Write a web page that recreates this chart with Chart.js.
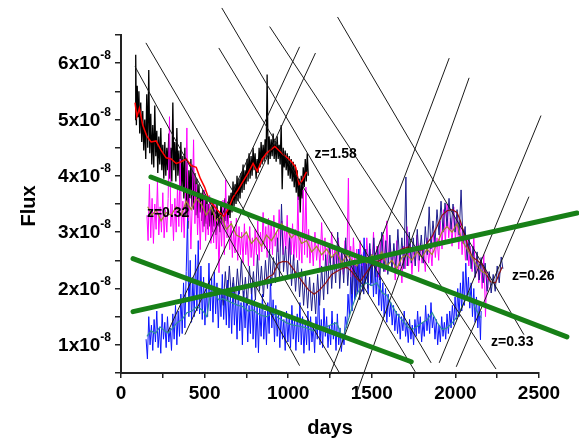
<!DOCTYPE html>
<html>
<head>
<meta charset="utf-8">
<script src="https://cdn.jsdelivr.net/npm/chart.js@4.4.1/dist/chart.umd.min.js"></script>
<style>
  html, body { margin: 0; padding: 0; background: #fff; }
  canvas { display: block; }
</style>
</head>
<body>
<canvas id="flux" width="579" height="438"></canvas>
<script>
// time in days, flux in units of 1e-8

// z=1.58 object (black raw + red smoothed)
var blackRaw = [[84,5.0],[88,6.15],[92,4.9],[97,5.6],[102,5.05],[107,5.5],[112,4.75],[118,5.3],[124,4.6],[130,5.15],[136,4.45],[142,5.0],[148,4.3],[154,5.45],[160,4.5],[166,5.88],[172,4.4],[178,5.1],[184,4.2],[190,4.9],[196,4.15],[202,5.25],[208,4.35],[214,4.8],[220,4.05],[226,4.7],[232,4.2],[238,4.85],[244,4.1],[250,4.55],[256,3.95],[262,4.6],[268,4.0],[274,4.5],[280,4.1],[286,4.75],[292,3.95],[298,4.5],[304,3.9],[310,5.3],[316,4.1],[322,4.6],[328,3.9],[334,4.85],[340,4.0],[346,4.45],[352,3.8],[358,4.6],[364,3.75],[370,4.35],[376,3.6],[382,4.5],[388,3.3],[394,4.25],[400,3.06],[406,4.1],[412,3.6],[418,4.3],[424,3.45],[430,4.2],[436,3.4],[442,4.05],[448,3.3],[454,3.95],[460,3.25],[466,3.85],[472,3.35],[478,3.7],[484,3.2],[490,3.75],[496,3.1],[502,3.65],[508,3.15],[514,3.6],[520,3.05],[526,3.5],[532,3.1],[538,3.45],[544,3.0],[550,3.55],[556,3.1],[562,3.4],[568,2.95],[574,3.5],[580,3.1],[586,3.35],[592,3.0],[598,3.55],[604,3.15],[610,3.3],[616,3.05],[622,3.6],[628,3.2],[634,3.45],[640,3.15],[646,3.65],[652,3.25],[658,3.7],[664,3.35],[670,3.9],[676,3.45],[682,3.85],[688,3.5],[694,4.0],[700,3.55],[706,3.95],[712,3.6],[718,4.05],[724,3.7],[730,4.2],[736,3.75],[742,4.1],[748,3.85],[754,4.3],[760,3.9],[766,4.4],[772,3.95],[778,4.35],[784,4.0],[790,4.5],[796,4.1],[802,4.4],[808,3.95],[814,4.3],[820,4.05],[826,4.5],[832,4.15],[838,4.6],[844,4.2],[850,4.55],[856,4.25],[862,4.65],[868,4.3],[874,5.8],[880,4.2],[886,4.7],[892,4.3],[898,4.65],[904,4.35],[910,4.75],[916,4.3],[922,4.6],[928,4.25],[934,4.7],[940,4.3],[946,4.55],[952,4.2],[958,4.9],[964,3.76],[970,4.5],[976,4.15],[982,4.45],[988,4.1],[994,4.4],[1000,4.0],[1006,4.35],[1012,3.95],[1018,4.3],[1024,3.9],[1030,4.25],[1036,3.8],[1042,4.2],[1048,3.7],[1054,4.1],[1060,3.57],[1066,3.95],[1072,3.35],[1078,4.0],[1084,3.6],[1090,4.15],[1096,3.8],[1102,4.3],[1108,3.9],[1114,4.4],[1120,4.0]];
var redSmooth = [[84,5.30],[95,5.05],[110,5.20],[130,4.90],[155,4.70],[180,4.60],[210,4.62],[240,4.45],[270,4.32],[300,4.30],[330,4.22],[360,4.25],[390,4.30],[420,4.18],[450,4.15],[475,3.95],[500,3.80],[530,3.55],[560,3.45],[590,3.35],[615,3.28],[640,3.40],[670,3.62],[700,3.75],[730,3.90],[760,4.05],[790,4.22],[815,4.08],[845,4.30],[870,4.40],[895,4.46],[920,4.52],[945,4.45],[970,4.38],[995,4.32],[1020,4.25],[1045,4.15],[1065,3.85],[1085,3.92],[1110,4.07]];

// z=0.32 object (magenta raw + olive smoothed)
var magentaRaw = [[155,3.3],[162,2.85],[170,3.85],[178,2.9],[186,3.6],[194,2.8],[202,3.5],[210,3.05],[218,3.9],[226,2.95],[234,3.45],[242,3.0],[250,3.7],[258,2.9],[266,3.4],[274,3.0],[282,3.6],[290,5.05],[298,3.1],[306,3.5],[314,2.85],[322,3.6],[330,3.0],[338,3.8],[346,3.1],[354,4.3],[362,3.0],[370,3.55],[378,2.9],[386,3.7],[394,4.85],[402,3.2],[410,3.6],[418,2.7],[426,3.5],[434,4.64],[442,3.15],[450,3.85],[458,2.95],[466,3.6],[474,2.69],[482,3.55],[490,3.0],[498,3.75],[506,2.85],[514,3.5],[522,2.95],[530,3.65],[538,2.8],[546,3.3],[554,2.81],[562,3.5],[570,2.7],[578,3.25],[586,2.28],[594,3.3],[602,2.75],[610,3.57],[618,2.6],[626,3.93],[634,2.9],[642,3.3],[650,2.69],[658,3.2],[666,2.55],[674,3.05],[682,2.63],[690,3.25],[698,2.5],[706,3.1],[714,2.6],[722,3.0],[730,2.45],[738,3.15],[746,2.6],[754,2.95],[762,2.4],[770,3.1],[778,2.55],[786,2.9],[794,2.4],[802,3.05],[810,2.6],[818,3.2],[826,2.5],[834,3.0],[842,2.65],[850,3.35],[858,2.7],[866,3.1],[874,2.55],[882,3.25],[890,2.7],[898,3.15],[906,2.6],[914,3.3],[922,2.75],[930,3.0],[938,2.65],[946,3.4],[954,2.75],[962,3.2],[970,2.6],[978,3.1],[986,2.7],[994,3.3],[1002,2.5],[1010,3.0],[1018,2.6],[1026,3.15],[1034,2.5],[1042,3.05],[1050,2.55],[1058,3.63],[1066,2.5],[1074,3.0],[1082,2.45],[1090,3.75],[1098,2.6],[1106,3.8],[1114,2.55],[1122,3.05],[1130,2.45],[1140,2.9],[1150,2.4],[1160,3.0],[1170,2.5],[1180,2.85],[1190,2.35],[1200,3.17],[1210,2.5],[1220,2.9],[1230,2.3],[1240,2.8],[1250,2.45],[1260,3.0],[1270,2.4],[1280,2.75],[1290,2.3],[1300,2.9],[1310,2.4],[1320,2.7],[1330,2.25],[1340,2.85],[1350,2.35],[1360,3.96],[1366,2.5],[1374,2.75],[1382,2.2],[1390,2.9],[1400,2.3],[1410,2.7],[1420,2.15],[1430,2.85],[1440,2.3],[1450,2.65],[1460,2.2],[1470,2.9],[1480,2.4],[1490,2.7],[1500,2.25],[1510,3.0],[1520,2.35],[1530,2.75],[1540,2.2],[1550,2.85],[1560,2.4],[1570,2.95],[1580,2.3],[1590,3.2],[1600,2.45],[1610,2.8],[1620,2.3],[1630,2.7],[1640,2.15],[1650,2.85],[1660,2.3],[1670,2.6],[1680,2.1],[1690,2.75],[1700,2.35],[1710,3.1],[1720,2.4],[1730,2.8],[1740,2.25],[1750,2.7],[1760,2.4],[1770,2.95],[1780,2.3],[1790,2.8],[1800,2.45],[1810,2.7],[1820,2.3],[1830,2.9],[1840,2.45],[1850,2.75],[1860,2.4],[1870,3.0],[1880,2.55],[1890,2.9],[1900,2.5],[1910,3.2],[1920,2.7],[1930,3.4],[1940,2.8],[1950,3.5],[1960,2.9],[1970,3.25],[1980,2.75],[1990,3.45],[2000,2.85],[2010,3.3],[2020,2.7],[2030,3.2],[2040,2.6],[2050,3.05],[2060,2.5],[2070,2.9],[2080,2.4],[2090,2.75],[2100,2.3],[2110,2.95],[2120,2.2],[2130,2.6],[2140,2.1],[2150,2.5],[2160,2.0],[2170,2.6],[2180,1.5],[2188,2.3],[2196,2.0]];
var oliveSmooth = [[160,3.45],[185,3.3],[210,3.4],[240,3.2],[270,3.35],[300,3.3],[330,3.45],[360,3.3],[390,3.55],[420,3.4],[450,3.6],[480,3.5],[510,3.3],[540,3.45],[570,3.2],[600,3.3],[630,3.05],[660,3.15],[690,2.95],[720,2.9],[750,3.0],[780,2.8],[810,2.9],[840,2.75],[870,2.95],[900,2.85],[930,3.0],[960,3.15],[990,3.05],[1020,2.9],[1050,3.0],[1080,2.8],[1110,2.85],[1140,2.65],[1170,2.75],[1200,2.6],[1230,2.7],[1260,2.55],[1290,2.65],[1320,2.45],[1350,2.6],[1380,2.5],[1410,2.4],[1440,2.55],[1470,2.45],[1500,2.6],[1530,2.5],[1560,2.65],[1590,2.4],[1620,2.5],[1650,2.35],[1680,2.55],[1710,2.6],[1740,2.5],[1770,2.65],[1800,2.55],[1830,2.7],[1860,2.6],[1890,2.8],[1920,3.0],[1950,3.1],[1980,3.0],[2010,3.15],[2040,2.85],[2070,2.7],[2100,2.55],[2130,2.4],[2160,2.3],[2190,2.25]];

// z=0.26 object (navy raw + dark red smoothed)
var navyRaw = [[600,2.0],[612,1.7],[624,2.3],[636,1.8],[648,2.4],[660,1.85],[672,2.2],[684,1.75],[696,2.35],[708,1.9],[720,2.5],[732,1.8],[744,2.2],[756,1.7],[768,2.4],[780,1.9],[792,2.3],[804,1.8],[816,2.6],[828,1.95],[840,2.4],[852,1.85],[864,2.5],[876,2.0],[888,2.7],[900,2.05],[912,2.55],[924,2.1],[936,2.9],[948,2.2],[960,3.5],[972,2.3],[984,2.75],[996,2.2],[1008,2.9],[1020,2.05],[1032,2.6],[1044,1.95],[1056,2.5],[1068,1.85],[1080,2.35],[1092,1.7],[1104,2.25],[1116,1.65],[1128,2.2],[1140,1.6],[1152,2.1],[1164,1.55],[1176,2.25],[1188,1.7],[1200,2.4],[1212,1.8],[1224,2.6],[1236,1.9],[1248,2.8],[1260,2.0],[1272,2.6],[1284,2.1],[1296,3.0],[1308,2.0],[1320,2.7],[1332,2.1],[1344,2.9],[1356,2.05],[1368,2.6],[1380,1.9],[1392,2.5],[1404,1.85],[1416,2.45],[1428,1.8],[1440,2.4],[1452,1.9],[1464,2.7],[1476,2.0],[1488,2.8],[1500,2.1],[1512,2.9],[1524,2.2],[1536,2.75],[1548,2.15],[1560,3.0],[1572,2.3],[1584,2.85],[1596,2.25],[1608,2.95],[1620,2.3],[1632,2.8],[1644,2.35],[1656,3.05],[1668,2.4],[1680,2.9],[1692,2.35],[1704,3.98],[1712,2.4],[1724,3.0],[1736,2.45],[1748,2.9],[1760,2.4],[1772,3.05],[1784,2.5],[1796,2.95],[1808,2.45],[1820,3.1],[1832,2.6],[1843,3.45],[1854,2.7],[1866,3.2],[1878,2.8],[1890,3.4],[1902,2.95],[1914,3.55],[1926,3.0],[1938,3.52],[1950,3.1],[1962,3.6],[1974,3.05],[1986,3.5],[1998,3.0],[2010,3.4],[2022,2.95],[2034,3.75],[2046,2.8],[2058,3.1],[2070,2.5],[2082,2.9],[2094,2.35],[2106,2.75],[2118,2.2],[2130,2.65],[2142,2.15],[2154,2.55],[2166,2.1],[2178,2.45],[2190,1.95],[2202,2.3],[2214,1.92],[2226,2.25],[2238,1.95],[2250,2.4],[2262,2.1],[2274,2.56],[2284,2.35]];
var darkRedSmooth = [[670,1.95],[720,2.0],[770,2.05],[810,2.03],[850,2.12],[880,2.2],[910,2.25],[940,2.45],[970,2.48],[1000,2.47],[1030,2.35],[1060,2.22],[1090,2.1],[1120,1.98],[1155,1.9],[1190,1.98],[1225,2.1],[1260,2.25],[1290,2.3],[1320,2.35],[1350,2.38],[1380,2.3],[1410,2.18],[1430,2.12],[1460,2.25],[1490,2.38],[1520,2.45],[1560,2.52],[1600,2.6],[1640,2.62],[1680,2.7],[1720,2.74],[1760,2.7],[1800,2.68],[1830,2.8],[1860,2.92],[1890,3.1],[1920,3.3],[1950,3.38],[1980,3.4],[2010,3.35],[2030,3.2],[2050,3.0],[2075,2.75],[2100,2.56],[2130,2.5],[2160,2.42],[2185,2.25],[2210,2.12],[2240,2.1],[2260,2.25],[2280,2.38]];

// z=0.33 object (blue raw + teal smoothed)
var blueRaw = [[150,1.1],[158,0.75],[166,1.5],[174,1.0],[182,1.35],[190,0.9],[198,1.45],[206,1.05],[214,1.6],[222,0.95],[230,1.3],[238,0.85],[246,1.55],[254,1.1],[262,1.4],[270,0.95],[278,1.5],[286,1.05],[294,1.3],[302,0.9],[310,1.55],[318,1.1],[326,1.7],[334,1.0],[342,1.6],[350,1.15],[358,1.9],[366,1.2],[374,2.1],[382,1.3],[390,2.3],[398,3.25],[406,1.5],[414,2.5],[422,1.4],[430,2.2],[438,1.5],[446,2.6],[454,1.6],[462,2.85],[470,1.55],[478,2.4],[486,1.45],[494,2.2],[502,1.35],[510,2.0],[518,1.5],[526,2.45],[534,1.6],[542,2.2],[550,1.4],[558,2.3],[566,1.55],[574,2.1],[582,1.3],[590,2.0],[598,1.5],[606,2.25],[614,1.45],[622,1.95],[630,1.35],[638,2.15],[646,1.3],[654,1.9],[662,1.2],[670,2.1],[678,1.35],[686,1.85],[694,1.1],[702,2.0],[710,1.25],[718,1.75],[726,1.0],[734,1.95],[742,1.3],[750,1.85],[758,1.05],[766,1.7],[774,1.2],[782,2.05],[790,1.1],[798,1.8],[806,0.95],[814,1.7],[822,0.86],[830,1.65],[838,1.15],[846,1.9],[854,1.1],[862,1.6],[870,1.0],[878,1.75],[886,1.2],[894,2.2],[902,1.3],[910,1.8],[918,1.05],[926,1.7],[934,1.15],[942,1.55],[950,0.95],[958,1.6],[966,1.1],[974,1.45],[982,0.9],[990,1.6],[998,1.05],[1006,1.5],[1014,0.95],[1022,1.7],[1030,1.1],[1038,1.45],[1046,0.9],[1054,1.55],[1062,1.05],[1070,1.75],[1078,1.0],[1086,1.5],[1094,0.85],[1102,1.4],[1110,1.0],[1118,1.6],[1126,0.9],[1134,1.5],[1142,1.05],[1150,1.35],[1158,0.86],[1166,1.5],[1174,1.1],[1182,2.0],[1190,1.0],[1198,1.45],[1206,0.95],[1214,1.65],[1222,1.15],[1230,1.5],[1238,0.95],[1246,1.35],[1254,1.0],[1262,1.6],[1270,1.1],[1278,1.4],[1286,0.9],[1294,1.55],[1302,1.0],[1310,1.3],[1318,0.88],[1326,1.2],[1334,1.0],[1342,1.5],[1350,1.3],[1358,1.9],[1366,1.5],[1374,2.2],[1382,1.6],[1390,2.5],[1398,1.8],[1406,2.4],[1414,1.9],[1422,2.7],[1430,2.0],[1438,2.6],[1446,1.95],[1454,2.9],[1462,2.1],[1470,2.5],[1478,1.9],[1486,2.75],[1494,2.05],[1502,2.6],[1510,1.85],[1518,2.45],[1526,1.9],[1534,2.3],[1542,1.7],[1550,2.2],[1558,1.6],[1566,2.1],[1574,1.5],[1582,2.0],[1590,1.4],[1598,1.9],[1606,1.5],[1614,1.75],[1622,1.35],[1630,1.7],[1638,1.25],[1646,1.6],[1654,1.2],[1662,1.55],[1670,1.1],[1678,1.5],[1686,1.25],[1694,1.6],[1702,1.15],[1710,1.4],[1718,1.04],[1726,1.45],[1734,1.1],[1742,1.35],[1750,1.0],[1758,1.45],[1766,1.15],[1774,1.6],[1782,1.2],[1790,1.5],[1798,1.05],[1806,1.4],[1814,1.15],[1822,1.7],[1830,1.25],[1838,1.55],[1846,1.2],[1854,1.75],[1862,1.3],[1870,1.5],[1878,1.1],[1886,1.45],[1894,1.0],[1902,1.35],[1910,1.05],[1918,1.5],[1926,1.15],[1934,1.4],[1942,1.1],[1950,1.55],[1958,1.2],[1966,1.6],[1974,1.3],[1982,1.7],[1990,1.35],[1998,1.85],[2006,1.45],[2014,2.0],[2022,1.5],[2030,2.1],[2038,1.6],[2046,2.3],[2054,1.7],[2062,2.45],[2070,1.8],[2078,2.2],[2086,1.65],[2094,2.1],[2102,1.5],[2110,2.0],[2118,1.4],[2126,1.85],[2134,1.3],[2142,1.7],[2150,1.09],[2154,1.6]];
var tealSmooth = [[155,1.15],[180,1.25],[205,1.2],[233,1.32],[260,1.25],[281,1.21],[310,1.3],[334,1.39],[365,1.45],[394,1.57],[425,1.6],[453,1.68],[485,1.62],[513,1.5],[531,1.85],[560,1.9],[585,1.8],[609,1.82],[640,1.78],[668,1.74],[700,1.7],[728,1.68],[760,1.6],[790,1.62],[811,1.57],[840,1.52],[871,1.5],[907,1.57],[940,1.48],[990,1.39],[1030,1.35],[1068,1.33],[1110,1.3],[1150,1.25],[1190,1.3],[1229,1.32],[1260,1.36],[1289,1.39],[1310,1.25],[1325,1.1],[1350,1.35],[1380,1.65],[1410,1.9],[1440,2.05],[1470,2.1],[1500,2.05],[1530,2.1],[1563,1.92],[1590,1.88],[1620,1.7],[1650,1.55],[1683,1.44],[1713,1.32],[1743,1.27],[1772,1.33],[1802,1.39],[1832,1.45],[1861,1.57],[1890,1.4],[1921,1.27],[1950,1.3],[1981,1.39],[2010,1.5],[2040,1.68],[2060,1.8],[2082,1.92],[2105,1.75],[2124,1.62],[2154,1.48]];

// thick green trend lines: [start, end]
var trendLines = [
  [[179,3.98],[2667,1.14]],
  [[72,2.53],[1736,0.70]],
  [[72,1.59],[2727,3.34]]
];

// thin black period lines: [start, end]
var periodLines = [
  [[84,5.94],[1068,0.63]],
  [[149,6.36],[1307,0.50]],
  [[585,6.27],[1760,0.52]],
  [[603,6.98],[1855,0.68]],
  [[889,6.65],[2243,0.57]],
  [[1295,6.82],[2410,1.18]],
  [[280,1.23],[1068,6.29]],
  [[382,1.18],[1163,6.18]],
  [[1247,0.45],[1963,6.09]],
  [[1408,0.13],[2082,5.74]],
  [[1903,0.68],[2512,5.07]],
  [[2005,0.61],[2440,3.63]]
];

// redshift labels: text, day, flux
var zLabels = [
  ['z=1.58', 1157, 4.39],
  ['z=0.32', 155, 3.33],
  ['z=0.26', 2339, 2.22],
  ['z=0.33', 2213, 1.05]
];

var yLabelValues = [1, 2, 3, 4, 5, 6];

function pts(arr) {
  return arr.map(function (p) { return { x: p[0], y: p[1] }; });
}

function series(arr, color, width) {
  return {
    data: pts(arr),
    borderColor: color,
    borderWidth: width,
    pointRadius: 0,
    showLine: true,
    fill: false
  };
}

var datasets = [];

trendLines.forEach(function (l) {
  var d = series(l, '#178017', 5);
  d.clip = false;
  d.borderCapStyle = 'round';
  datasets.push(d);
});
periodLines.forEach(function (l) {
  var d = series(l, '#1a1a1a', 1);
  d.clip = false;
  datasets.push(d);
});
datasets.push(series(redSmooth, '#ff0000', 1.5));
datasets.push(series(oliveSmooth, '#a08a2a', 1.2));
datasets.push(series(darkRedSmooth, '#8b1010', 1.2));
datasets.push(series(tealSmooth, '#2f8f9a', 1.2));
datasets.push(series(navyRaw, '#1c1c8c', 1));
datasets.push(series(blueRaw, '#0a14ff', 1));
datasets.push(series(magentaRaw, '#ff00ff', 1));
datasets.push(series(blackRaw, '#000000', 1.3));

var FONT = '"Liberation Sans", Arial, sans-serif';

// labels, y tick text with superscript, axis titles
var textPlugin = {
  id: 'texts',
  afterDatasetsDraw: function (chart) {
    var ctx = chart.ctx, xs = chart.scales.x, ys = chart.scales.y;
    ctx.save();
    ctx.fillStyle = '#000';
    ctx.font = 'bold 14px ' + FONT;
    ctx.textAlign = 'left';
    ctx.textBaseline = 'middle';
    zLabels.forEach(function (l) {
      ctx.fillText(l[0], xs.getPixelForValue(l[1]), ys.getPixelForValue(l[2]));
    });
    ctx.restore();
  },
  afterDraw: function (chart) {
    var ctx = chart.ctx, ys = chart.scales.y;
    ctx.save();
    ctx.fillStyle = '#000';
    yLabelValues.forEach(function (v) {
      var y = ys.getPixelForValue(v);
      ctx.font = 'bold 12px ' + FONT;
      var sup = '-8';
      var sw = ctx.measureText(sup).width;
      var right = 111;
      ctx.textAlign = 'left';
      ctx.textBaseline = 'middle';
      ctx.fillText(sup, right - sw, y - 7);
      ctx.font = 'bold 19px ' + FONT;
      ctx.textAlign = 'right';
      ctx.fillText(v + 'x10', right - sw, y + 1);
    });
    ctx.font = 'bold 20px ' + FONT;
    ctx.textAlign = 'center';
    ctx.textBaseline = 'middle';
    ctx.fillText('days', 330, 428);
    ctx.translate(29, 206);
    ctx.rotate(-Math.PI / 2);
    ctx.fillText('Flux', 0, 0);
    ctx.restore();
  }
};

new Chart(document.getElementById('flux'), {
  type: 'scatter',
  data: { datasets: datasets },
  options: {
    responsive: false,
    animation: false,
    events: [],
    layout: { padding: { top: 35, right: 40, left: 0, bottom: 0 } },
    plugins: {
      legend: { display: false },
      tooltip: { enabled: false }
    },
    scales: {
      x: {
        type: 'linear',
        min: 0,
        max: 2500,
        afterFit: function (s) { s.height = 65; },
        border: { display: true, color: '#222', width: 2 },
        grid: { drawOnChartArea: false, drawTicks: true, tickLength: 5, color: '#222', lineWidth: 1.5 },
        ticks: {
          stepSize: 250,
          autoSkip: false,
          maxRotation: 0,
          padding: 4,
          color: '#000',
          font: { family: FONT, size: 19, weight: 'bold' },
          callback: function (v) { return v % 500 === 0 ? String(v) : ''; }
        }
      },
      y: {
        type: 'linear',
        min: 0.5,
        max: 6.5,
        afterFit: function (s) { s.width = 121; },
        border: { display: true, color: '#222', width: 2 },
        grid: { drawOnChartArea: false, drawTicks: true, tickLength: 6, color: '#222', lineWidth: 1.5 },
        ticks: {
          stepSize: 0.5,
          autoSkip: false,
          callback: function () { return ''; }
        }
      }
    }
  },
  plugins: [textPlugin]
});
</script>
</body>
</html>
